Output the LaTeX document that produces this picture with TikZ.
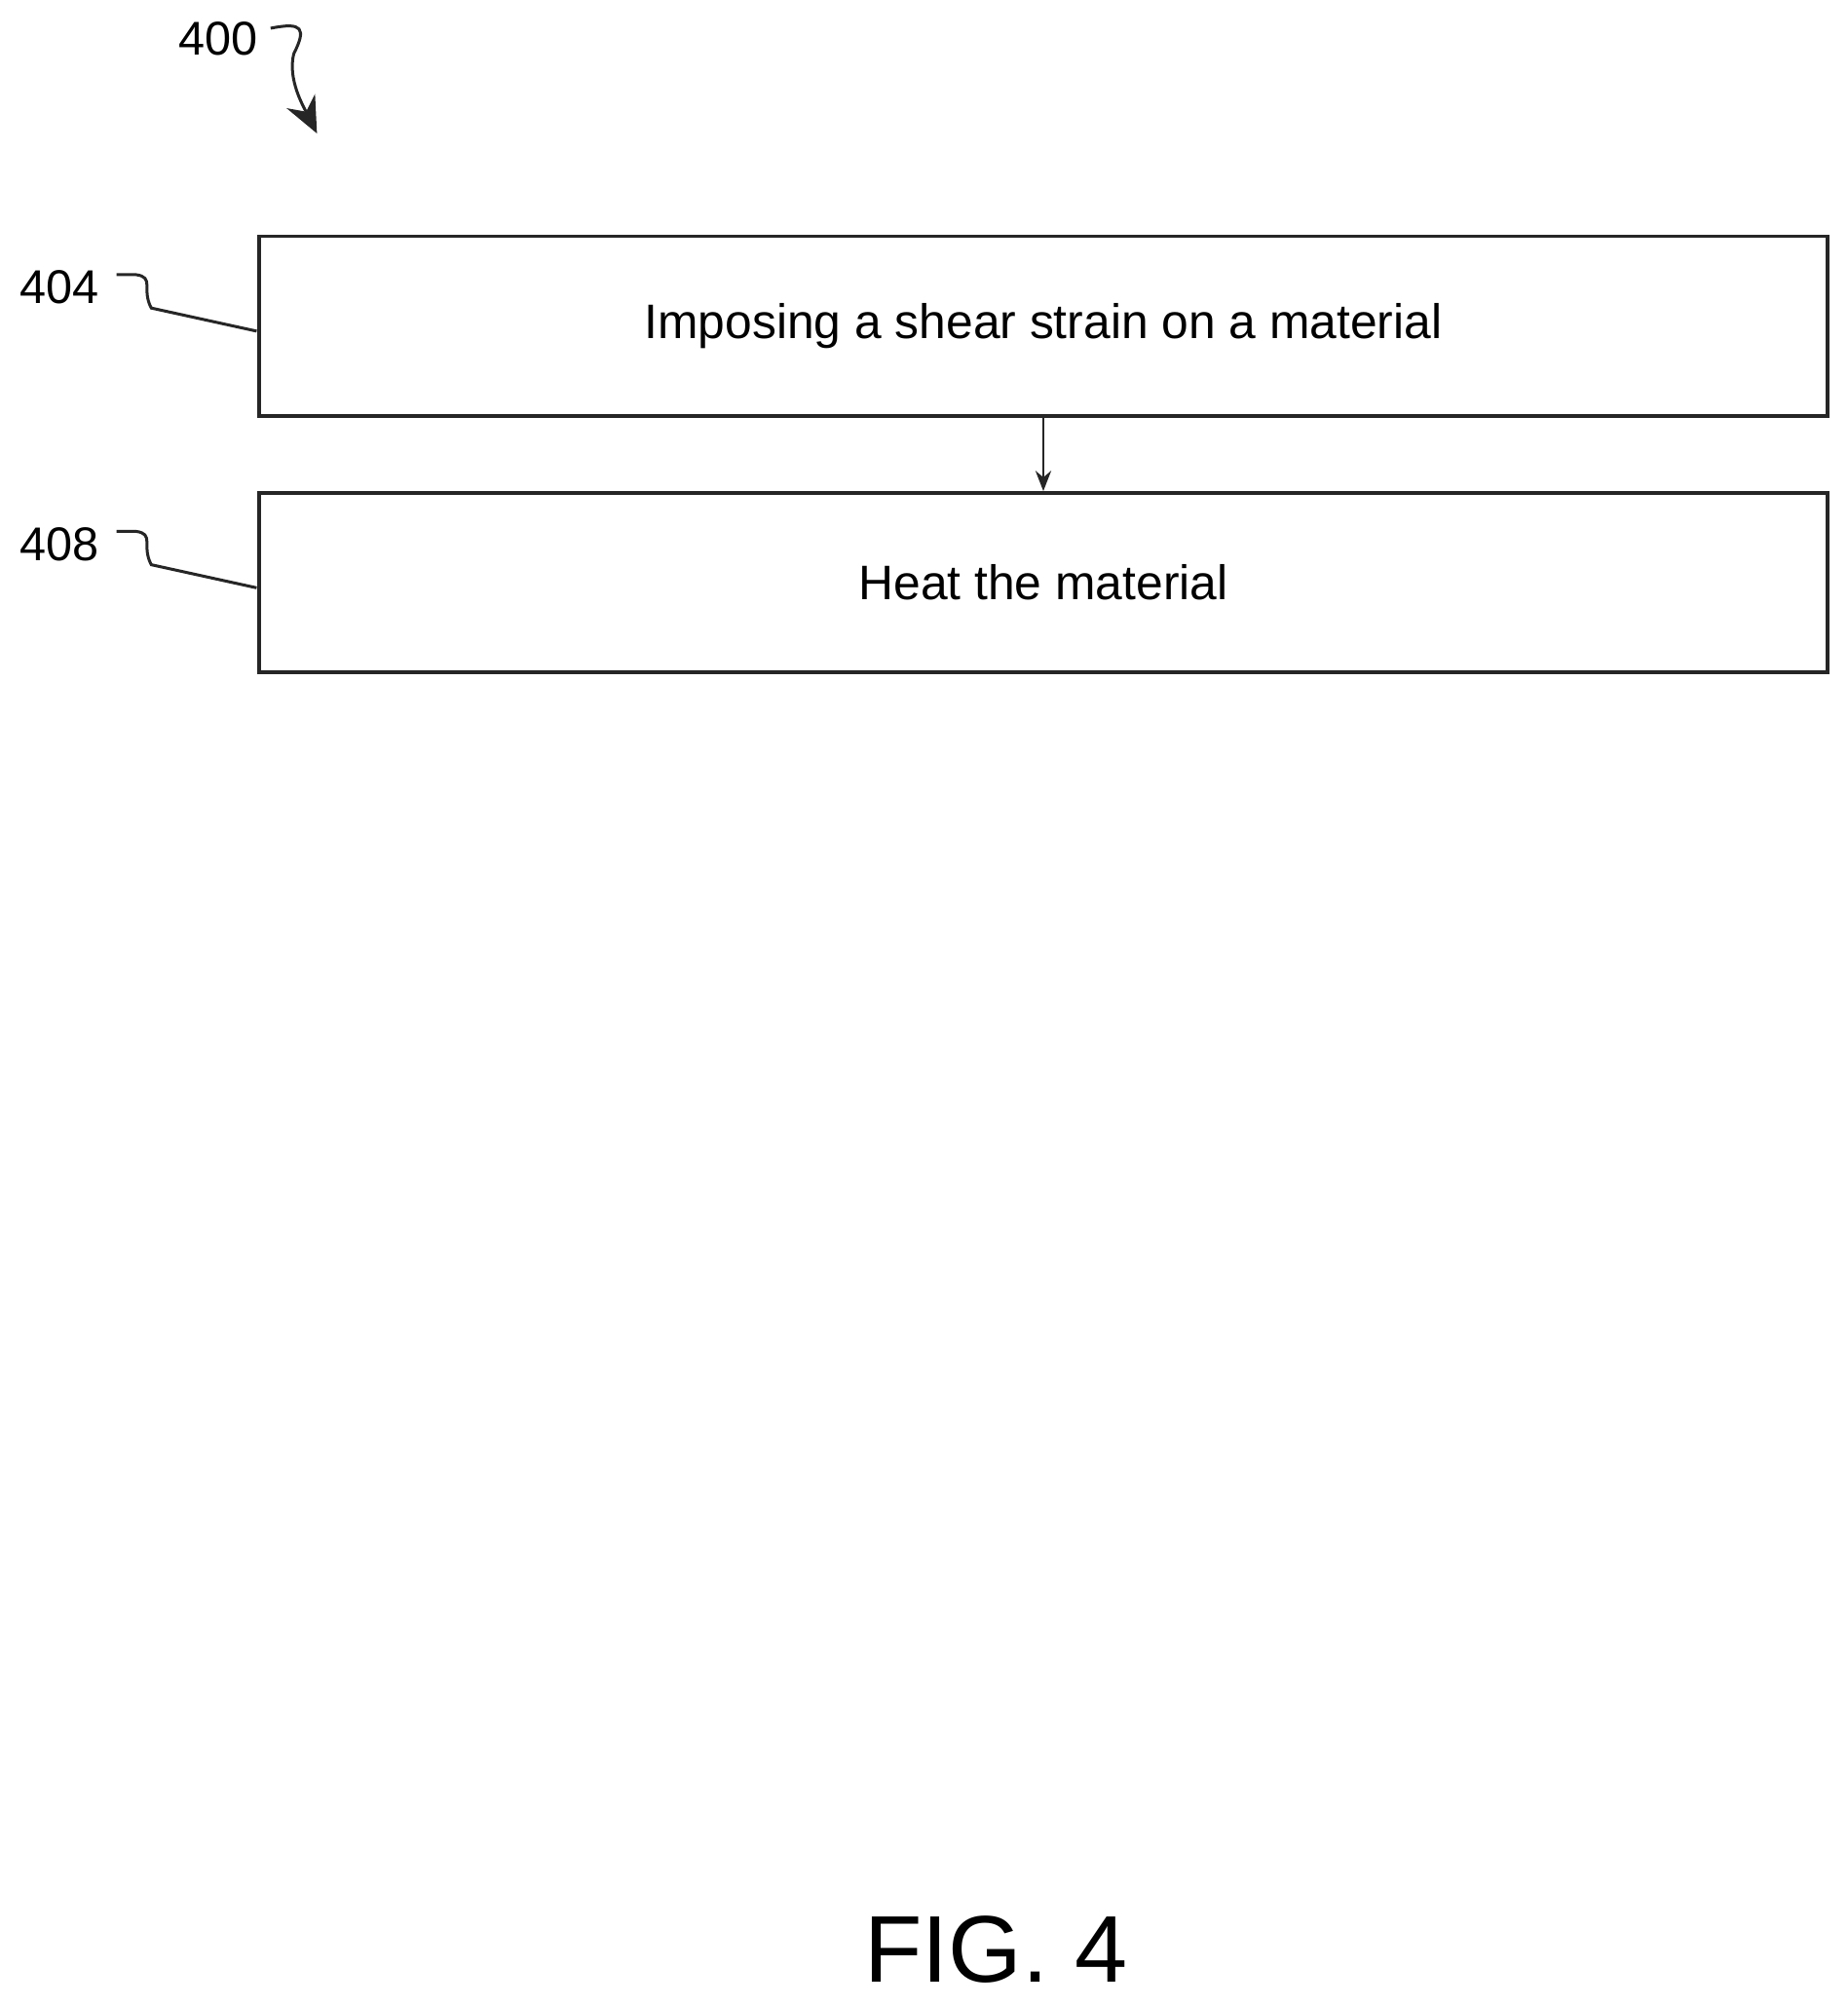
\documentclass[tikz,border=0pt]{standalone}
\usepackage{fontspec}
\setmainfont{Liberation Sans}
\usetikzlibrary{arrows.meta,positioning}
\tikzset{step box/.style={draw=black!85, line width=1.6pt, minimum width=24.45cm,
    minimum height=2.8cm, inner sep=0pt, font=\fontsize{21.5}{26}\selectfont}}
\tikzset{ref label/.style={font=\fontsize{21}{25}\selectfont, inner sep=1pt}}
\tikzset{leader edge/.style={draw=black!85, line width=1.3pt}}
\tikzset{flow edge/.style={draw=black!85, line width=0.9pt, -{Stealth[length=9pt,width=7pt]}}}
\begin{document}
\begin{tikzpicture}[x=0.02cm, y=-0.02cm]
  \useasboundingbox (0,0) rectangle (1440,1563);

  \node [ref label]            (fig)   at ( 170,  30) {400};
  \coordinate                  (figtip) at (247, 104);
  \draw [leader edge, -{Stealth[length=16pt,width=14pt]}]
        (fig.east) ++(8,-8) .. controls +(25,-5) and +(10,-20) .. +(18,20)
        .. controls +(-5,20) and +(-10,-20) .. (figtip);

  \node [step box] (strain) at ( 813, 254) {Imposing a shear strain on a material};
  \node [step box] (heat)   at ( 813, 454) {Heat the material};

  \draw [flow edge] (strain.south) -- (heat.north);

  \node [ref label] (l404) at ( 46, 224) {404};
  \node [ref label] (l408) at ( 46, 424) {408};
  \coordinate (s404) at (200, 258);
  \coordinate (s408) at (200, 458);
  \draw [leader edge] (l404.east) ++(12,-10) -- ++(15,0)
        .. controls +(15,2) and +(-8,-15) .. ++(12,26) -- (s404);
  \draw [leader edge] (l408.east) ++(12,-10) -- ++(15,0)
        .. controls +(15,2) and +(-8,-15) .. ++(12,26) -- (s408);

  \node [font=\fontsize{42}{50}\selectfont] (caption) at (776, 1519) {FIG. 4};
\end{tikzpicture}
\end{document}
